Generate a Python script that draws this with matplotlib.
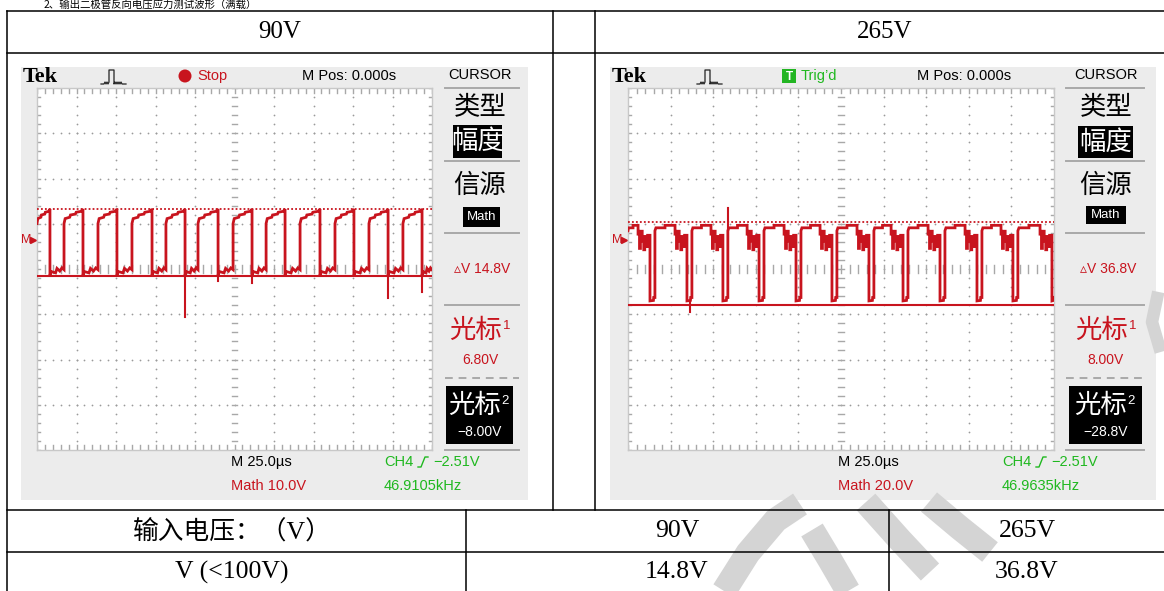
import numpy as np
import matplotlib.pyplot as plt
from matplotlib.patches import Rectangle, Circle

# Oscilloscope captures (Math trace) for output diode voltage, 90V and 265V input

# ---- data ----
# left scope, 90V input: edge times in us (25 us/div, trigger at 0)
left_rise_us = [-107.9, -86.4, -64.9, -43.4, -23.1, -0.9, 20.0, 41.5, 63.6, 85.1, 106.6]
left_fall_us = [-116.8, -95.9, -74.4, -52.2, -31.3, -10.4, 11.1, 32.0, 54.1, 75.6, 97.2, 118.7]
# shape of a high / low stretch: (fraction of stretch, volts)
left_high_shape = [(0.0, 3.6), (0.06, 4.7), (0.3, 5.0), (0.34, 5.5), (0.6, 5.7), (0.64, 6.1), (0.9, 6.3), (1.0, 6.8)]
left_low_shape = [(0.0, -7.8), (0.08, -7.0), (0.4, -7.3), (0.5, -6.3), (0.7, -6.9), (0.85, -6.2), (1.0, -6.6)]
left_spike_us = [-31.3, -10.4, 11.1, 97.2, 118.7]
left_spike_v = [-17.0, -9.2, -9.5, -12.9, -11.5]
left_cursor_v = [6.80, -8.00]

# right scope, 265V input: start times of the deep negative pulses (us)
right_deep_us = [-112.1, -90.4, -69.3, -48.1, -26.4, -5.3, 16.4, 36.4, 58.1, 79.8, 100.9, 123.8]
right_deep_len_us = 2.9
right_noise_len_us = 7.0
right_deep_shape = [(0.0, -27.0), (0.7, -26.8), (0.75, -25.5), (1.0, -25.5)]
right_plateau_shape = [(0.0, 4.0), (0.05, 5.3), (0.5, 5.3), (0.5, 6.4), (1.0, 6.4)]
right_noise_shape = [(0.0, 2.5), (0.12, 2.5), (0.12, -3.8), (0.2, -3.8), (0.2, 3.8), (0.35, 3.8),
                     (0.35, -0.5), (0.48, -0.5), (0.48, -4.4), (0.56, -4.4), (0.56, 1.5), (0.7, 1.5),
                     (0.7, -3.0), (0.8, -3.0), (0.8, 2.0), (1.0, 2.0)]
right_spike_us = [-66.3, -88.6]
right_spike_v = [14.0, -32.0]
right_cursor_v = [8.00, -28.8]

# table values
header_labels = ['90V', '265V']
row_labels = ['输入电压：（V）', 'V (<100V)']
col_90 = ['90V', '14.8V']
col_265 = ['265V', '36.8V']

W, H = 1164, 591
RED = '#c8141e'
GREEN = '#1fb81f'
TEK_FONT = ['Liberation Sans Narrow', 'Liberation Sans', 'DejaVu Sans']
CJK = ['Noto Sans CJK SC', 'DejaVu Sans']
SERIF = ['Liberation Serif', 'Noto Sans CJK SC']

fig = plt.figure(figsize=(W / 100, H / 100), dpi=100)
bg = fig.add_axes([0, 0, 1, 1])
bg.set_xlim(0, W)
bg.set_ylim(H, 0)
bg.axis('off')


def add_px_axes(x0, y0, x1, y1):
    return fig.add_axes([x0 / W, 1 - y1 / H, (x1 - x0) / W, (y1 - y0) / H])


def stretch(a, b, shape):
    return [a + f * (b - a) for f, _ in shape], [v for _, v in shape]


def left_trace():
    edges = sorted(left_rise_us + left_fall_us)
    bounds = [-125.0] + edges + [125.0]
    t, v = [], []
    for i in range(len(bounds) - 1):
        shape = left_high_shape if i % 2 == 0 else left_low_shape
        tt, vv = stretch(bounds[i], bounds[i + 1], shape)
        t += tt
        v += vv
    return t, v


def right_trace():
    t, v = [], []
    first = right_deep_us[0]
    tt, vv = stretch(-125.0, first - right_noise_len_us, right_plateau_shape)
    t += tt; v += vv
    tt, vv = stretch(first - right_noise_len_us, first, right_noise_shape)
    t += tt; v += vv
    for i, d in enumerate(right_deep_us):
        end = min(d + right_deep_len_us, 125.0)
        tt, vv = stretch(d, end, right_deep_shape)
        t += tt; v += vv
        if i + 1 < len(right_deep_us):
            nxt = right_deep_us[i + 1]
            tt, vv = stretch(end, nxt - right_noise_len_us, right_plateau_shape)
            t += tt; v += vv
            tt, vv = stretch(nxt - right_noise_len_us, nxt, right_noise_shape)
            t += tt; v += vv
    return t, v


def draw_grid(ax):
    ax.set_xlim(-5, 5)
    ax.set_ylim(-4, 4)
    ax.set_facecolor('white')
    for s in ax.spines.values():
        s.set_color('#c8c8c8')
        s.set_linewidth(1.0)
    ax.set_xticks([])
    ax.set_yticks([])
    dots_y = np.arange(-20, 21) * 0.2
    dots_x = np.arange(-25, 26) * 0.2
    for k in [-4, -3, -2, -1, 1, 2, 3, 4]:
        ax.scatter(np.full(dots_y.size, k), dots_y, s=1.6, color='#9a9a9a', lw=0)
    for k in [-3, -2, -1, 1, 2, 3]:
        ax.scatter(dots_x, np.full(dots_x.size, k), s=1.6, color='#9a9a9a', lw=0)
    for y in dots_y:
        ax.plot([-0.07, 0.07], [y, y], color='#a8a8a8', lw=1.0)
        ax.plot([-5, -4.92], [y, y], color='#a8a8a8', lw=1.0)
        ax.plot([4.92, 5], [y, y], color='#a8a8a8', lw=1.0)
    for x in dots_x:
        ax.plot([x, x], [-0.08, 0.08], color='#a8a8a8', lw=1.0)
        ax.plot([x, x], [3.9, 4], color='#a8a8a8', lw=1.0)
        ax.plot([x, x], [-4, -3.9], color='#a8a8a8', lw=1.0)


def draw_scope(cfg, trace, spikes_t, spikes_v, cursors, ylim):
    bx0, by0, bx1, by1 = cfg['bezel']
    bg.add_patch(Rectangle((bx0, by0), bx1 - bx0, by1 - by0, color='#ececec', lw=0, zorder=1))
    gx0, gy0, gx1, gy1 = cfg['grid']
    gax = add_px_axes(gx0, gy0, gx1, gy1)
    draw_grid(gax)
    dax = add_px_axes(gx0, gy0, gx1, gy1)
    dax.set_xlim(-125, 125)
    dax.set_ylim(*ylim)
    dax.axis('off')
    dax.patch.set_alpha(0)
    t, v = trace
    dax.plot(t, v, color=RED, lw=2.0, solid_joinstyle='miter')
    for ts, vs in zip(spikes_t, spikes_v):
        near = np.interp(ts, t, v)
        dax.plot([ts, ts], [near, vs], color=RED, lw=1.5)
    dax.axhline(cursors[0], color=RED, lw=1.3, ls=(0, (1, 1.2)))
    dax.axhline(cursors[1], color=RED, lw=1.5)

    # top bar
    bg.text(bx0 + 2, 77, 'Tek', family=['Liberation Serif'], weight='bold', fontsize=16,
            va='center', ha='left')
    ix = cfg['icon']
    ic_x = [0, 3, 4, 5, 6, 7, 8, 8, 13, 13, 14, 15, 16, 17, 18, 19, 20, 21, 22, 25]
    ic_y = [15, 15, 13, 15, 13, 15, 13, 1, 1, 15, 13, 15, 13, 15, 13, 15, 13, 15, 15, 15]
    bg.plot([ix + a for a in ic_x], [69 + b for b in ic_y], color='#222222', lw=0.9)
    if cfg['status'] == 'Stop':
        bg.add_patch(Circle((cfg['stat_x'], 76), 6.5, color=RED, lw=0, zorder=2))
        bg.text(cfg['stat_x'] + 12, 76, 'Stop', family=TEK_FONT, fontsize=10.5, color=RED,
                va='center', ha='left')
    else:
        sx = cfg['stat_x']
        bg.add_patch(Rectangle((sx - 7, 69), 14, 14, color='#22b522', lw=0, zorder=2))
        bg.text(sx, 76.5, 'T', family=TEK_FONT, fontsize=8.5, color='white', weight='bold',
                va='center', ha='center')
        bg.text(sx + 12, 76, 'Trig’d', family=TEK_FONT, fontsize=10.5, color=GREEN,
                va='center', ha='left')
    bg.text(cfg['mpos'], 76, 'M Pos: 0.000s', family=TEK_FONT, fontsize=10.5,
            va='center', ha='center')
    ax_c = (gx0 + gx1) / 2
    bg.plot([ax_c, ax_c], [91, 99], color='black', lw=1.2)
    bg.plot([ax_c], [99], marker='v', color='black', ms=6)
    # ground marker
    bg.text(gx0 - 16, 240, 'M', family=TEK_FONT, fontsize=9, color=RED, va='center', ha='left')
    bg.plot([gx0 - 4], [240], marker='>', color=RED, ms=5)

    # right menu panel
    cx = cfg['panel']
    sx0, sx1 = cfg['sep']
    bg.text(cx, 75, 'CURSOR', family=TEK_FONT, fontsize=10.5, va='center', ha='center')
    for y in [88, 161, 233, 305, 450]:
        bg.plot([sx0, sx1], [y, y], color='#a9a9a9', lw=1.4)
    bg.plot([sx0, sx1], [378, 378], color='#a9a9a9', lw=1.4, ls=(0, (4, 3)))
    bg.text(cx, 107, '类型', family=CJK, fontsize=19, va='center', ha='center')
    b = cfg['box1']
    bg.add_patch(Rectangle((b[0], b[1]), b[2] - b[0], b[3] - b[1], color='black', lw=0, zorder=2))
    bg.text((b[0] + b[2]) / 2, (b[1] + b[3]) / 2, '幅度', family=CJK, fontsize=19, color='white',
            va='center', ha='center')
    bg.text(cx, 185, '信源', family=CJK, fontsize=19, va='center', ha='center')
    b = cfg['box2']
    bg.add_patch(Rectangle((b[0], b[1]), b[2] - b[0], b[3] - b[1], color='black', lw=0, zorder=2))
    bg.text((b[0] + b[2]) / 2, (b[1] + b[3]) / 2 + 0.5, 'Math', family=TEK_FONT, fontsize=9.5,
            color='white', va='center', ha='center')
    bg.text(cx + 2, 269, cfg['dv'], family=TEK_FONT, fontsize=10, color=RED, va='center', ha='center')
    bg.text(cx - 4, 330, '光标', family=CJK, fontsize=19, color=RED, va='center', ha='center')
    bg.text(cx + 23, 326, '1', family=TEK_FONT, fontsize=9.5, color=RED, va='center', ha='left')
    bg.text(cx, 360, cfg['c1'], family=TEK_FONT, fontsize=10, color=RED, va='center', ha='center')
    b = cfg['box3']
    bg.add_patch(Rectangle((b[0], b[1]), b[2] - b[0], b[3] - b[1], color='black', lw=0, zorder=2))
    bcx = (b[0] + b[2]) / 2
    bg.text(bcx - 5, 405, '光标', family=CJK, fontsize=19, color='white', va='center', ha='center')
    bg.text(bcx + 22, 401, '2', family=TEK_FONT, fontsize=9.5, color='white', va='center', ha='left')
    bg.text(bcx, 432, cfg['c2'], family=TEK_FONT, fontsize=10, color='white', va='center', ha='center')

    # bottom readouts
    mx, chx = cfg['bottom']
    bg.text(mx, 462, 'M 25.0µs', family=TEK_FONT, fontsize=10.5, va='center', ha='left')
    bg.text(mx, 486, cfg['math'], family=TEK_FONT, fontsize=10.5, color=RED, va='center', ha='left')
    bg.text(chx, 462, 'CH4', family=TEK_FONT, fontsize=10.5, color=GREEN, va='center', ha='left')
    ex = chx + 34
    bg.plot([ex, ex + 3, ex + 7, ex + 10], [467, 467, 457, 457], color=GREEN, lw=1.0)
    bg.text(ex + 15, 462, '−2.51V', family=TEK_FONT, fontsize=10.5, color=GREEN, va='center', ha='left')
    bg.text(chx, 486, cfg['freq'], family=TEK_FONT, fontsize=10.5, color=GREEN, va='center', ha='left')


left_cfg = dict(bezel=(21, 67, 528, 500), grid=(37, 88, 432, 450), icon=101, status='Stop',
                stat_x=185, mpos=349, panel=480, sep=(445, 519), box1=(453, 125, 502, 158),
                box2=(463, 207, 500, 227), box3=(446, 386, 513, 444), dv='▵V 14.8V',
                c1='6.80V', c2='−8.00V', bottom=(231, 384), math='Math 10.0V', freq='46.9105kHz')
right_cfg = dict(bezel=(610, 67, 1156, 500), grid=(628, 88, 1054, 450), icon=697, status='Trig',
                 stat_x=789, mpos=964, panel=1106, sep=(1066, 1144), box1=(1078, 126, 1133, 158),
                 box2=(1086, 206, 1126, 224), box3=(1069, 386, 1142, 444), dv='▵V 36.8V',
                 c1='8.00V', c2='−28.8V', bottom=(838, 1002), math='Math 20.0V', freq='46.9635kHz')

# ---- faint watermark strokes over the lower right (under lines and text) ----
wm = dict(color='#d4d4d4', lw=18, solid_capstyle='butt', zorder=1.5)
bg.plot([724, 748, 776, 800], [591, 553, 520, 504], **wm)
bg.plot([812, 830, 848], [530, 560, 591], **wm)
bg.plot([866, 900, 930], [502, 540, 572], **wm)
bg.plot([929, 960, 990], [502, 528, 552], **wm)
bg.plot([1157, 1152, 1159], [298, 322, 346], color='#d4d4d4', lw=9, zorder=1.5)

# ---- table frame ----
lk = dict(color='black', lw=1.1, zorder=2)
for y in [11, 53, 510, 552]:
    bg.plot([7, W], [y, y], **lk)
bg.plot([7, 7], [11, H], **lk)
bg.plot([553, 553], [11, 510], **lk)
bg.plot([595, 595], [11, 510], **lk)
bg.plot([466, 466], [510, H], **lk)
bg.plot([889, 889], [510, H], **lk)

bg.text(44, 4.5, '2、输出二极管反向电压应力测试波形（满载）', family=CJK, fontsize=7.5,
        va='center', ha='left')
bg.text(280, 32, header_labels[0], family=SERIF, fontsize=18, va='center', ha='center')
bg.text(885, 32, header_labels[1], family=SERIF, fontsize=18, va='center', ha='center')
for i, y in enumerate([531, 572]):
    bg.text(232, y, row_labels[i], family=SERIF, fontsize=18.5, va='center', ha='center')
    bg.text(677, y, col_90[i], family=SERIF, fontsize=18.5, va='center', ha='center')
    bg.text(1027, y, col_265[i], family=SERIF, fontsize=18.5, va='center', ha='center')

# ---- scopes ----
draw_scope(left_cfg, left_trace(), left_spike_us, left_spike_v, left_cursor_v, (-46.44, 33.56))
draw_scope(right_cfg, right_trace(), right_spike_us, right_spike_v, right_cursor_v, (-92.9, 67.1))

fig.savefig('out.png', dpi=100)
